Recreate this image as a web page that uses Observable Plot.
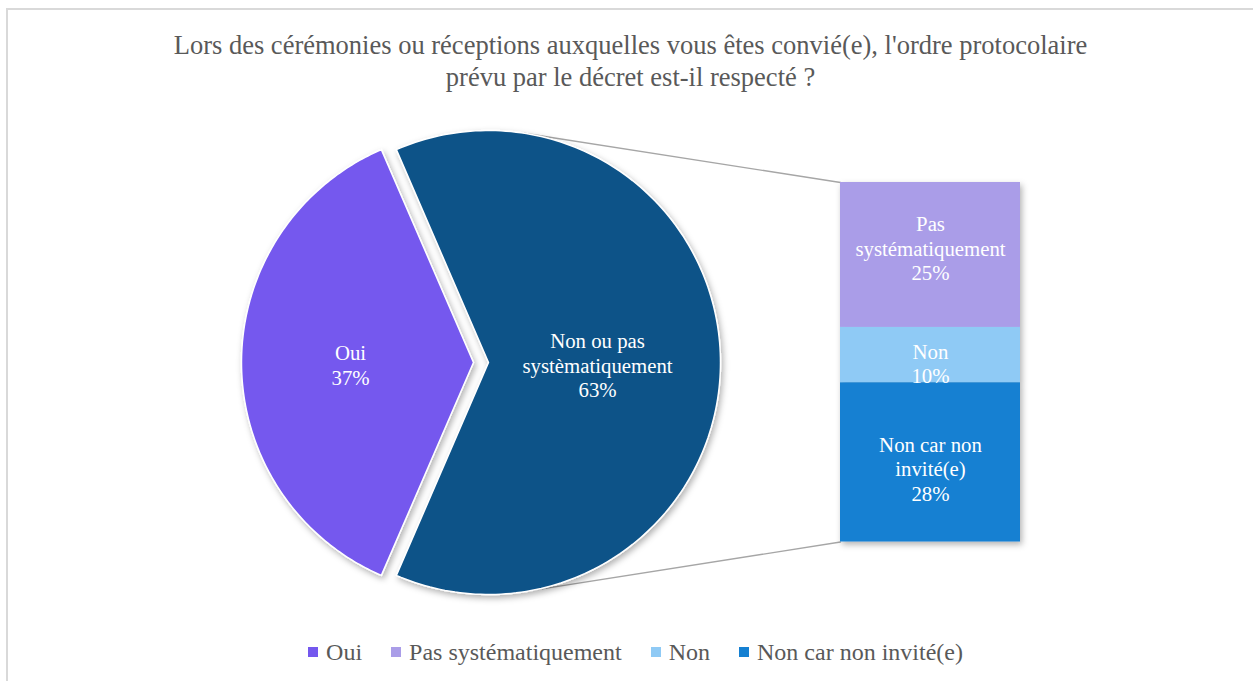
<!DOCTYPE html>
<html>
<head>
<meta charset="utf-8">
<script src="https://cdn.jsdelivr.net/npm/d3@7"></script>
<script src="https://cdn.jsdelivr.net/npm/@observablehq/plot@0.6"></script>
<style>
  html, body { margin: 0; padding: 0; background: #fff; width: 1253px; height: 681px; overflow: hidden; }
  #frame { position: absolute; left: 6px; top: 8px; width: 1300px; height: 700px; border: 2px solid #d9d9d9; box-sizing: border-box; }
  #title { position: absolute; left: 4px; top: 29px; width: 1253px; text-align: center; font-family: "Liberation Serif", serif; font-size: 26.5px; line-height: 32px; color: #595959; white-space: pre-line; }
  #chart { position: absolute; left: 0; top: 110px; }
  #legend { position: absolute; left: 9px; top: 638px; width: 1253px; display: flex; justify-content: center; align-items: center; font-family: "Liberation Serif", serif; font-size: 24px; line-height: 28px; color: #595959; }
  .item { display: flex; align-items: center; margin: 0 14.5px; }
  .sw { width: 10px; height: 10px; margin-right: 8px; }
</style>
</head>
<body>
<div id="frame"></div>
<div id="title"></div>
<div id="chart"></div>
<div id="legend"></div>
<script>
// ---- data ----
const titleText = "Lors des cérémonies ou réceptions auxquelles vous êtes convié(e), l'ordre protocolaire\nprévu par le décret est-il respecté ?";
const pieCategories = ["Oui", "Non ou pas systématiquement"];
const pieLabels = ["Oui", "Non ou pas\nsystèmatiquement"];
const pieValues = [37, 63];
const barCategories = ["Pas systématiquement", "Non", "Non car non invité(e)"];
const barLabels = ["Pas\nsystématiquement", "Non", "Non car non\ninvité(e)"];
const barValues = [25.4, 9.7, 27.9];
const legendCategories = ["Oui", "Pas systématiquement", "Non", "Non car non invité(e)"];
const colorDomain = ["Oui", "Non ou pas systématiquement", "Pas systématiquement", "Non", "Non car non invité(e)"];
const colorRange = ["#7458ee", "#0e5388", "#aa9de8", "#8fcaf5", "#1580d2"];

// ---- layout (pixels) ----
const W = 1253, H = 510;
const R = 232, CX = 488, CY = 252;      // pie centre inside svg, radius
const explode = 15 / R;                 // Oui slice pulled out
const barX0 = (840 - 488) / R, barX1 = (1020 - 488) / R;
const barTop = (362 - 182) / R, barBottom = (362 - 541.5) / R;
const barLabelDy = [-7, 8, 6];
const pieLabelDist = [0.53, 0.47];
const fmt = d3.format(".0f");

document.getElementById("title").textContent = titleText;

// ---- pie slices (units of radius, y up, angle clockwise from top) ----
const total = d3.sum(pieValues);
const spanOui = pieValues[0] / total * 360;
const startOui = 270 - spanOui / 2;
const slices = [];
let a0 = startOui;
pieValues.forEach((v, i) => {
  const span = v / total * 360;
  const mid = (a0 + span / 2) * Math.PI / 180;
  const off = i === 0 ? explode : 0;
  const ox = off * Math.sin(mid), oy = off * Math.cos(mid);
  const pts = [{cat: pieCategories[i], x: ox, y: oy}];
  const n = 180;
  for (let k = 0; k <= n; k++) {
    const t = (a0 + span * k / n) * Math.PI / 180;
    pts.push({cat: pieCategories[i], x: ox + Math.sin(t), y: oy + Math.cos(t)});
  }
  slices.push({pts, mid, ox, oy, label: pieLabels[i] + "\n" + fmt(v) + "%", cat: pieCategories[i]});
  a0 += span;
});
const pieText = slices.map((s, i) => ({
  x: s.ox + pieLabelDist[i] * Math.sin(s.mid),
  y: s.oy + pieLabelDist[i] * Math.cos(s.mid) - 0.01,
  label: s.label
}));

// ---- bar of pie ----
const barTotal = d3.sum(barValues);
const by = d3.scaleLinear([0, barTotal], [barTop, barBottom]);
let cum = 0;
const bars = barValues.map((v, i) => {
  const r = {cat: barCategories[i], y1: by(cum), y2: by(cum + v), label: barLabels[i] + "\n" + fmt(v) + "%", dy: barLabelDy[i]};
  cum += v;
  return r;
});

// ---- connector lines: tangents from bar corners to pie circle ----
function tangent(px, py, upper) {
  const d = Math.hypot(px, py);
  const phi = Math.atan2(py, px);
  const al = Math.acos(1 / d);
  const t = upper ? phi + al : phi - al;
  return {x: Math.cos(t), y: Math.sin(t)};
}
const tTop = tangent(barX0, barTop, true);
const tBot = tangent(barX0, barBottom, false);
const connectors = [
  {id: "top", x: tTop.x, y: tTop.y}, {id: "top", x: barX0, y: barTop},
  {id: "bot", x: tBot.x, y: tBot.y}, {id: "bot", x: barX0, y: barBottom}
];

const font = "Liberation Serif";
const plot = Plot.plot({
  width: W, height: H,
  margin: 0,
  x: {domain: [-CX / R, (W - CX) / R], axis: null},
  y: {domain: [-(H - CY) / R, CY / R], axis: null},
  color: {domain: colorDomain, range: colorRange},
  style: {background: "transparent", overflow: "visible"},
  marks: [
    Plot.line(connectors, {x: "x", y: "y", z: "id", stroke: "#a6a6a6", strokeWidth: 1.3}),
    Plot.line(slices.flatMap(s => s.pts), {x: "x", y: "y", z: "cat", fill: "cat", stroke: "white", strokeWidth: 1.5, curve: "linear-closed"}),
    Plot.rect(bars, {x1: barX0, x2: barX1, y1: "y1", y2: "y2", fill: "cat", inset: 0}),
    Plot.text(pieText, {x: "x", y: "y", text: "label", fill: "white", fontSize: 20.8, fontFamily: font, lineHeight: 1.18}),
    ...bars.map(b => Plot.text([b], {x: (barX0 + barX1) / 2, y: d => (d.y1 + d.y2) / 2, dy: b.dy, text: "label", fill: "white", fontSize: 20.8, fontFamily: font, lineHeight: 1.18}))
  ]
});

// soft shadow like the original
const svg = d3.select(plot);
const defs = svg.insert("defs", ":first-child");
const f = defs.append("filter").attr("id", "sh").attr("x", "-10%").attr("y", "-10%").attr("width", "130%").attr("height", "130%");
f.append("feDropShadow").attr("dx", 2).attr("dy", 3).attr("stdDeviation", 3).attr("flood-color", "#000").attr("flood-opacity", 0.3);
svg.selectAll("g[aria-label=line]").filter((d, i) => i === 1).attr("filter", "url(#sh)");
svg.selectAll("g[aria-label=rect]").attr("filter", "url(#sh)");

document.getElementById("chart").appendChild(plot);

// legend
const color = plot.scale("color");
const legend = d3.select("#legend");
legendCategories.forEach(c => {
  const it = legend.append("div").attr("class", "item");
  it.append("div").attr("class", "sw").style("background", color.range[color.domain.indexOf(c)]);
  it.append("span").text(c);
});
</script>
</body>
</html>
